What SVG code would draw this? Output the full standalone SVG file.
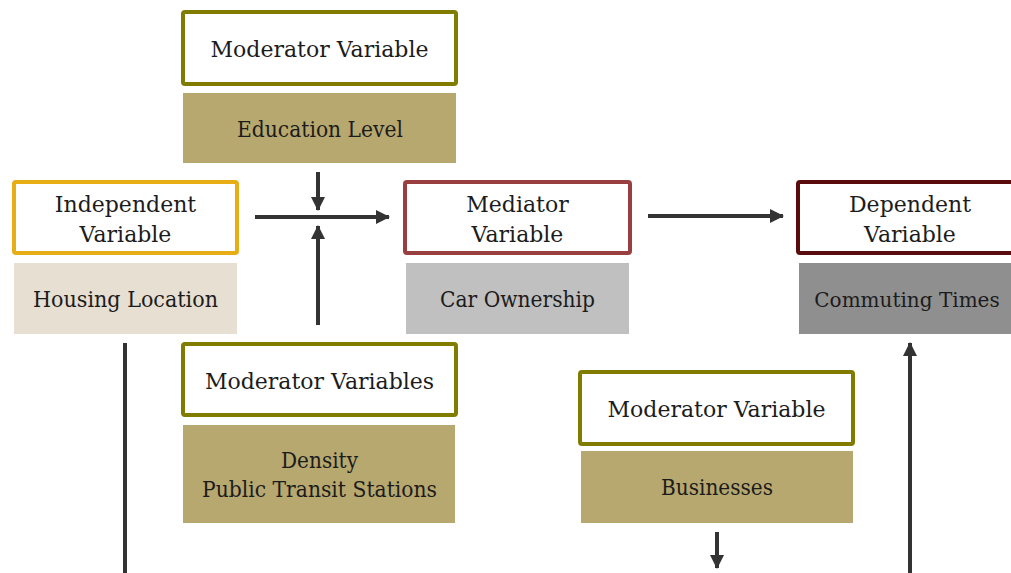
<svg xmlns="http://www.w3.org/2000/svg" width="1011" height="573" viewBox="0 0 1011 573">
<style>
.t{font-family:"DejaVu Serif","Liberation Serif",serif;font-size:22px;fill:#1c1c1c;text-anchor:middle}
.box{fill:#fff;stroke-width:4}
.mod{stroke:#7f7c00}
.tan{fill:#b7a86f}
.c{stroke:#333;stroke-width:4;fill:none}
</style>
<defs>
<marker id="ah" markerUnits="userSpaceOnUse" markerWidth="16" markerHeight="16" refX="13" refY="8" orient="auto">
<path d="M0,1 L14,8 L0,15 Z" fill="#333"/>
</marker>
</defs>
<g id="connectors">
<line class="c" x1="255" y1="217" x2="389" y2="217" marker-end="url(#ah)"/>
<line class="c" x1="318" y1="172" x2="318" y2="210" marker-end="url(#ah)"/>
<line class="c" x1="318" y1="325" x2="318" y2="226" marker-end="url(#ah)"/>
<line class="c" x1="648" y1="216" x2="783" y2="216" marker-end="url(#ah)"/>
<line class="c" x1="125" y1="343" x2="125" y2="573"/>
<line class="c" x1="717" y1="532" x2="717" y2="568" marker-end="url(#ah)"/>
<line class="c" x1="910" y1="573" x2="910" y2="343" marker-end="url(#ah)"/>
</g>
<g id="moderator-top">
<rect class="box mod" x="183" y="12" width="273" height="72" rx="2"/>
<text class="t" x="319.5" y="57">Moderator Variable</text>
<rect class="tan" x="183" y="93" width="273" height="70"/>
<text class="t" x="320" y="137" textLength="166" lengthAdjust="spacingAndGlyphs">Education Level</text>
</g>
<g id="independent">
<rect class="box" stroke="#e6ad14" x="14" y="182" width="223" height="71" rx="2"/>
<text class="t" x="125.5" y="212">Independent</text>
<text class="t" x="125.5" y="242">Variable</text>
<rect fill="#e7dfd2" x="14" y="263" width="223" height="71"/>
<text class="t" x="125.5" y="307" textLength="185" lengthAdjust="spacingAndGlyphs">Housing Location</text>
</g>
<g id="mediator">
<rect class="box" stroke="#9a3f3f" x="405" y="182" width="225" height="71" rx="2"/>
<text class="t" x="517.5" y="212">Mediator</text>
<text class="t" x="517.5" y="242">Variable</text>
<rect fill="#c0c0c0" x="406" y="263" width="223" height="71"/>
<text class="t" x="517.5" y="307" textLength="155" lengthAdjust="spacingAndGlyphs">Car Ownership</text>
</g>
<g id="dependent">
<path d="M1011,182 H800 Q798,182 798,184 V251 Q798,253 800,253 H1011" fill="#fff" stroke="#5a0c0c" stroke-width="4"/>
<text class="t" x="910" y="212">Dependent</text>
<text class="t" x="910" y="242">Variable</text>
<rect fill="#8f8f8f" x="799" y="263" width="212" height="71"/>
<text class="t" x="907" y="307" style="font-size:20px">Commuting Times</text>
</g>
<g id="moderator-left">
<rect class="box mod" x="183" y="344" width="273" height="71" rx="2"/>
<text class="t" x="319.5" y="389">Moderator Variables</text>
<rect class="tan" x="183" y="425" width="272" height="98"/>
<text class="t" x="319.5" y="468" textLength="77" lengthAdjust="spacingAndGlyphs">Density</text>
<text class="t" x="319.5" y="497" textLength="235" lengthAdjust="spacingAndGlyphs">Public Transit Stations</text>
</g>
<g id="moderator-right">
<rect class="box mod" x="580" y="372" width="273" height="72" rx="2"/>
<text class="t" x="716.5" y="417">Moderator Variable</text>
<rect class="tan" x="581" y="451" width="272" height="72"/>
<text class="t" x="717" y="495" textLength="112" lengthAdjust="spacingAndGlyphs">Businesses</text>
</g>
</svg>
